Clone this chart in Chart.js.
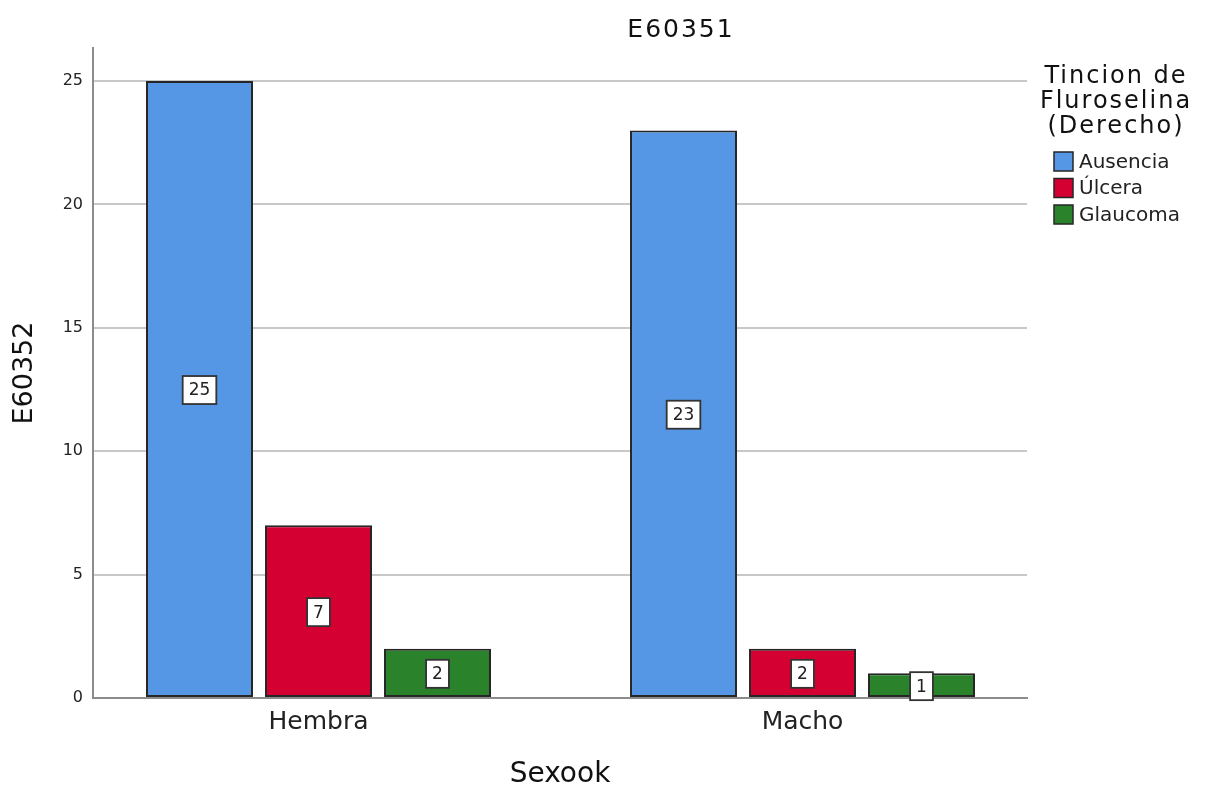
<!DOCTYPE html>
<html>
<head>
<meta charset="utf-8">
<script src="https://cdn.jsdelivr.net/npm/chart.js@4.4.1/dist/chart.umd.min.js"></script>
<style>
  html, body { margin: 0; padding: 0; background: #ffffff; }
  canvas { display: block; }
</style>
</head>
<body>
<canvas id="chart" width="1209" height="789"></canvas>
<script>
// Counts per sex and fluorescein staining result
const categories = ['Hembra', 'Macho'];
const seriesNames = ['Ausencia', 'Úlcera', 'Glaucoma'];
const ausencia = [25, 23];
const ulcera = [7, 2];
const glaucoma = [2, 1];
const yTicks = [0, 5, 10, 15, 20, 25];

const chartTitle = 'E60351';
const legendTitle = ['Tincion de', 'Fluroselina', '(Derecho)'];
const xTitle = 'Sexook';
const yTitle = 'E60352';

const colors = ['#5596e5', '#d40032', '#2a822b'];
const edge = '#262626';

const FONT = 'DejaVu Sans';
Chart.defaults.font.family = FONT;
Chart.defaults.color = '#222222';

const seriesValues = [ausencia, ulcera, glaucoma];
const toPoints = vals => vals.map((v, i) => ({ x: i, y: v }));

// Title, legend and value boxes drawn on top of the chart
const annotate = {
  id: 'annotate',
  afterDatasetsDraw(chart) {
    const ctx = chart.ctx;
    ctx.save();
    ctx.font = '17px "' + FONT + '"';
    ctx.textAlign = 'center';
    ctx.textBaseline = 'middle';
    chart.data.datasets.forEach((ds, di) => {
      const meta = chart.getDatasetMeta(di);
      meta.data.forEach((el, i) => {
        const txt = String(ds.data[i].y);
        const cx = el.x;
        const cy = (el.y + el.base) / 2 + 1;
        const w = ctx.measureText(txt).width + 12;
        const h = 28;
        ctx.fillStyle = '#ffffff';
        ctx.fillRect(cx - w / 2, cy - h / 2, w, h);
        ctx.lineWidth = 1.8;
        ctx.strokeStyle = '#333333';
        ctx.strokeRect(cx - w / 2, cy - h / 2, w, h);
        ctx.fillStyle = '#222222';
        ctx.fillText(txt, cx, cy + 1);
      });
    });
    ctx.restore();
  },
  afterDraw(chart) {
    const ctx = chart.ctx;
    ctx.save();
    ctx.fillStyle = '#111111';
    ctx.textAlign = 'center';
    ctx.textBaseline = 'alphabetic';
    ctx.letterSpacing = '2px';
    ctx.font = '25px "' + FONT + '"';
    ctx.fillText(chartTitle, 681, 37);

    ctx.font = '24px "' + FONT + '"';
    legendTitle.forEach((line, i) => {
      ctx.fillText(line, 1116, 83 + i * 25);
    });

    ctx.letterSpacing = '0px';
    ctx.textAlign = 'left';
    ctx.textBaseline = 'middle';
    ctx.font = '20px "' + FONT + '"';
    chart.data.datasets.forEach((ds, i) => {
      const y = 152 + i * 26.5;
      ctx.fillStyle = ds.backgroundColor;
      ctx.fillRect(1054, y, 19, 19);
      ctx.lineWidth = 1.5;
      ctx.strokeStyle = edge;
      ctx.strokeRect(1054, y, 19, 19);
      ctx.fillStyle = '#222222';
      ctx.fillText(ds.label, 1079, y + 10.5);
    });
    ctx.restore();
  }
};

new Chart(document.getElementById('chart'), {
  type: 'bar',
  data: {
    datasets: seriesNames.map((name, k) => ({
      label: name,
      data: toPoints(seriesValues[k]),
      backgroundColor: colors[k],
      borderColor: edge,
      borderWidth: 2,
      borderSkipped: false,
      categoryPercentage: 0.7376,
      barPercentage: 0.899
    }))
  },
  options: {
    responsive: false,
    animation: false,
    layout: { padding: { left: 0, right: 182, top: 48, bottom: 0 } },
    plugins: {
      legend: { display: false },
      title: { display: false },
      tooltip: { enabled: false }
    },
    scales: {
      x: {
        type: 'linear',
        offset: false,
        min: -0.4659,
        max: 1.4638,
        afterBuildTicks: s => { s.ticks = categories.map((c, i) => ({ value: i })); },
        afterFit: s => { s.height = 91; },
        grid: { display: false, drawTicks: false, offset: false },
        border: { display: true, color: '#8c8c8c', width: 2 },
        ticks: {
          padding: 9,
          font: { size: 25 },
          color: '#222222',
          callback: v => categories[v]
        },
        title: {
          display: true,
          text: xTitle,
          font: { size: 28, lineHeight: 1 },
          color: '#111111',
          padding: { top: 0, bottom: 0 }
        }
      },
      y: {
        min: 0,
        max: 26.34,
        afterBuildTicks: s => { s.ticks = yTicks.map(v => ({ value: v })); },
        afterFit: s => { s.width = 93; },
        grid: { color: '#c8c8c8', lineWidth: 2, drawTicks: false },
        border: { display: true, color: '#8c8c8c', width: 2 },
        ticks: { padding: 10, font: { size: 16 }, color: '#222222' },
        title: {
          display: true,
          text: yTitle,
          font: { size: 27 },
          color: '#111111',
          padding: { top: 9, bottom: 0 }
        }
      }
    }
  },
  plugins: [annotate]
});
</script>
</body>
</html>
